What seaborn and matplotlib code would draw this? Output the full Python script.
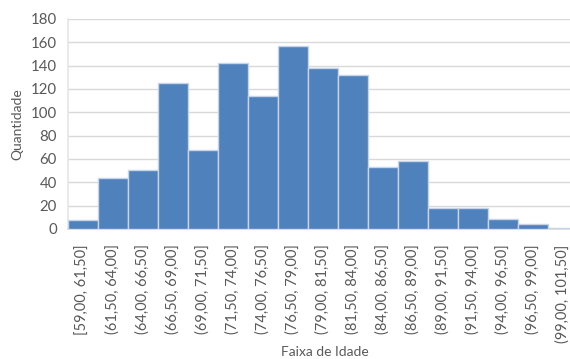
import matplotlib
matplotlib.use("Agg")
import matplotlib.pyplot as plt
import seaborn as sns
import pandas as pd

# Age bands and counts
faixas = ["[59,00, 61,50]", "(61,50, 64,00]", "(64,00, 66,50]", "(66,50, 69,00]",
          "(69,00, 71,50]", "(71,50, 74,00]", "(74,00, 76,50]", "(76,50, 79,00]",
          "(79,00, 81,50]", "(81,50, 84,00]", "(84,00, 86,50]", "(86,50, 89,00]",
          "(89,00, 91,50]", "(91,50, 94,00]", "(94,00, 96,50]", "(96,50, 99,00]",
          "(99,00, 101,50]"]
quantidade = [8, 44, 51, 125, 68, 142, 114, 157, 138, 132, 53, 58, 18, 18, 9, 4, 1]
y_ticks = [0, 20, 40, 60, 80, 100, 120, 140, 160, 180]

df = pd.DataFrame({"faixa": faixas, "quantidade": quantidade})

sns.set_theme(style="white")
plt.rcParams["font.family"] = ["Lato", "DejaVu Sans"]

W, H = 570, 359
fig = plt.figure(figsize=(W / 100, H / 100), dpi=100)
ax = fig.add_axes([68 / W, 130 / H, 510 / W, 210 / H])

sns.barplot(data=df, x="faixa", y="quantidade", ax=ax, color="#4F81BD",
            saturation=1, width=1.0, edgecolor="#c6d4e8", linewidth=1.0, zorder=3)

txt = "#595959"
ax.set_ylim(0, 180)
ax.set_xlim(-0.5, len(faixas) - 0.5)
ax.set_yticks(y_ticks)
ax.set_yticklabels([str(v) for v in y_ticks], color=txt, fontsize=10.8)
ax.set_xticks(range(len(faixas)))
ax.set_xticklabels(faixas, rotation=90, color=txt, fontsize=10.5, va="top", ha="center")
ax.tick_params(axis="both", length=0)
ax.tick_params(axis="x", pad=11)
ax.tick_params(axis="y", pad=8)

ax.yaxis.grid(True, color="#d9d9d9", linewidth=1.0, zorder=0)
ax.xaxis.grid(False)
for s in ["top", "right"]:
    ax.spines[s].set_visible(False)
ax.spines["left"].set_color("#e6e6e6")
ax.spines["bottom"].set_color("#d9d9d9")

ax.set_xlabel("")
ax.set_ylabel("")
fig.text(325 / W, 1 - 352 / H, "Faixa de Idade", ha="center", va="center",
         color=txt, fontsize=10)
fig.text(17 / W, 1 - 124 / H, "Quantidade", ha="center", va="center",
         rotation=90, color=txt, fontsize=10)

fig.savefig("out.png", dpi=100)
